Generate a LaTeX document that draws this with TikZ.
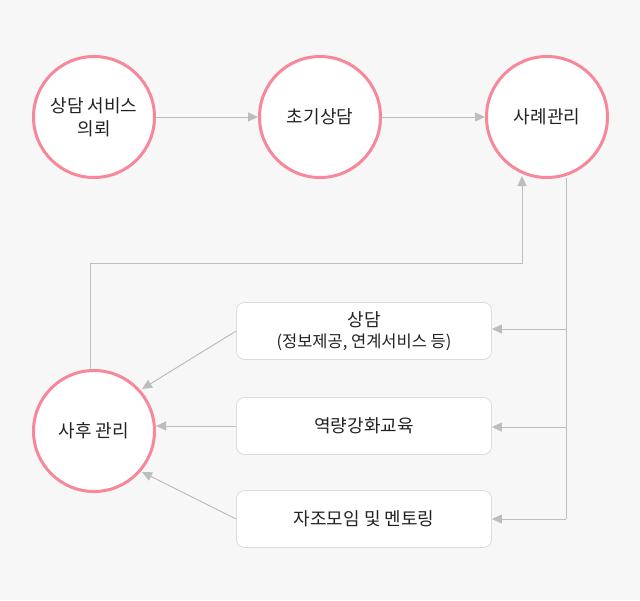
\documentclass[tikz,border=0pt]{standalone}
\usepackage{fontspec}
\setmainfont{Noto Sans CJK KR}
\usetikzlibrary{arrows.meta,calc}
\definecolor{bgc}{HTML}{F7F7F7}
\definecolor{pinkc}{HTML}{F6889A}
\definecolor{linec}{HTML}{BDBDBD}
\definecolor{boxc}{HTML}{DCDCDC}
\definecolor{textc}{HTML}{222222}
\tikzset{
  circ/.style={circle, draw=pinkc, line width=3pt, fill=white, minimum size=121pt, inner sep=0pt, align=center, font=\fontsize{18}{23}\selectfont, text=textc},
  boxn/.style={draw=boxc, line width=0.8pt, rounded corners=8pt, fill=white, minimum width=255pt, minimum height=57pt, inner sep=0pt, align=center, font=\fontsize{18}{21}\selectfont, text=textc},
  conn/.style={draw=linec, line width=1pt, -{Triangle[length=10pt,width=9pt]}},
  plainc/.style={draw=linec, line width=1pt}
}
\begin{document}
\begin{tikzpicture}[x=1pt,y=-1pt]
\fill[bgc] (0,0) rectangle (640,600);
\useasboundingbox (0,0) rectangle (640,600);
\node[circ] (c1) at (94,117) {상담 서비스\\의뢰};
\node[circ] (c2) at (320,117) {초기상담};
\node[circ] (c3) at (547,117) {사례관리};
\node[circ] (c4) at (94,431) {사후 관리};
\node[boxn] (b1) at (364,331) {상담\\{\fontsize{16.5}{20}\selectfont (정보제공, 연계서비스 등)}};
\node[boxn] (b2) at (364,426) {역량강화교육};
\node[boxn] (b3) at (364,519) {자조모임 및 멘토링};
\draw[conn] (c1.east) -- (c2.west);
\draw[conn] (c2.east) -- (c3.west);
\coordinate (t3) at (566,178);
\coordinate (j1) at (566,329);
\coordinate (j2) at (566,427);
\coordinate (j3) at (566,519);
\draw[plainc] (t3) -- (j3);
\draw[conn] (j1) -- (b1.east |- j1);
\draw[conn] (j2) -- (b2.east |- j2);
\draw[conn] (j3) -- (b3.east |- j3);
\coordinate (u0) at (90,370);
\coordinate (u1) at (90,263);
\coordinate (u2) at (522,263);
\coordinate (u3) at (522,176);
\draw[conn] (u0) -- (u1) -- (u2) -- (u3);
\draw[conn] (b1.west) -- (142,389);
\draw[conn] (b2.west) -- (156,426);
\draw[conn] (b3.west) -- (142,472);
\end{tikzpicture}
\end{document}
